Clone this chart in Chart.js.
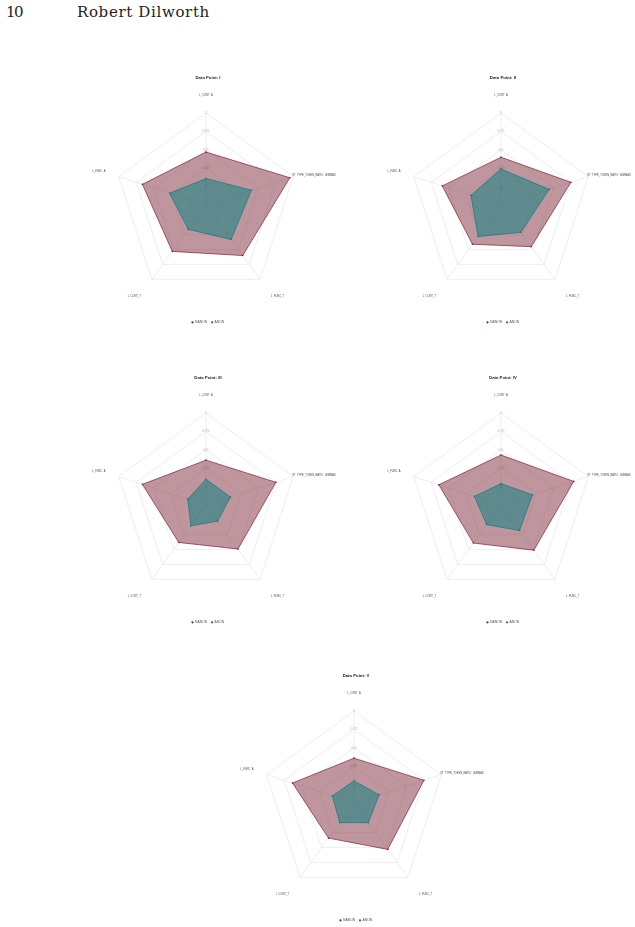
<!DOCTYPE html>
<html>
<head>
<meta charset="utf-8">
<script src="https://cdn.jsdelivr.net/npm/chart.js@4.4.0/dist/chart.umd.min.js"></script>
<style>
  html, body { margin: 0; padding: 0; background: #fff; overflow: hidden; }
  body { width: 635px; height: 927px; position: relative; }
  .head { position: absolute; top: 3px; font-family: 'DejaVu Serif', serif; font-size: 15px; color: #222; white-space: nowrap; }
  canvas { position: absolute; }
</style>
</head>
<body>
<div class="head" style="left:6px;letter-spacing:-1.5px">10</div>
<div class="head" style="left:77px;letter-spacing:0.65px">Robert Dilworth</div>

<canvas id="chart1" width="290" height="264" style="left:63px;top:70px"></canvas>
<canvas id="chart2" width="290" height="264" style="left:358px;top:70px"></canvas>
<canvas id="chart3" width="290" height="264" style="left:63px;top:370px"></canvas>
<canvas id="chart4" width="290" height="264" style="left:358px;top:370px"></canvas>
<canvas id="chart5" width="290" height="264" style="left:211px;top:668px"></canvas>

<script>
// axes, clockwise from the top
const axisLabels = ['L_CONT_A', 'ST_TYPE_TOKEN_RATIO_LEMMAS', 'L_FUNC_T', 'L_CONT_T', 'L_FUNC_A'];
const seriesNames = ['NANON', 'ANON'];
const chartTitles = ['Data Point: I', 'Data Point: II', 'Data Point: III', 'Data Point: IV', 'Data Point: V'];

// scale
const scaleMin = -0.25;
const scaleMax = 1;
const scaleStep = 0.25;

// values
const nanon1 = [0.47, 0.95, 0.60, 0.53, 0.66];
const anon1  = [0.11, 0.40, 0.33, 0.16, 0.27];
const nanon2 = [0.40, 0.75, 0.45, 0.41, 0.59];
const anon2  = [0.24, 0.44, 0.21, 0.28, 0.18];
const nanon3 = [0.36, 0.75, 0.49, 0.38, 0.66];
const anon3  = [0.10, 0.10, 0.02, 0.10, 0.01];
const nanon4 = [0.43, 0.79, 0.51, 0.39, 0.64];
const anon4  = [0.04, 0.20, 0.18, 0.08, 0.13];
const nanon5 = [0.36, 0.75, 0.53, 0.34, 0.63];
const anon5  = [0.05, 0.11, 0.08, 0.08, 0.06];

Chart.defaults.font.family = "'Liberation Sans', Arial, sans-serif";
Chart.defaults.animation = false;

const labelPadding = [15, -3, 17, 17, 12];

function makeRadar(id, title, nanon, anon) {
    const ctx = document.getElementById(id);
    const data = {
        labels: axisLabels,
        datasets: [
            {
                // drawn on top
                label: seriesNames[1],
                data: anon,
                fill: 'start',
                backgroundColor: 'rgba(0, 128, 128, 0.5)',
                borderColor: 'rgb(0, 128, 128)',
                borderWidth: 0.7,
                pointRadius: 0.8,
                pointBorderWidth: 0,
                pointBackgroundColor: 'rgb(0, 128, 128)'
            },
            {
                label: seriesNames[0],
                data: nanon,
                fill: 'start',
                backgroundColor: 'rgba(128, 45, 61, 0.5)',
                borderColor: 'rgb(128, 30, 55)',
                borderWidth: 0.7,
                pointRadius: 0.8,
                pointBorderWidth: 0,
                pointBackgroundColor: 'rgb(128, 30, 55)'
            }
        ]
    };
    const config = {
        type: 'radar',
        data: data,
        options: {
            responsive: false,
            plugins: {
                title: {
                    display: true,
                    text: title,
                    color: '#222',
                    font: { size: 4.3, weight: 'bold' },
                    padding: { top: 5, bottom: 4.09 }
                },
                legend: {
                    position: 'bottom',
                    reverse: true,
                    labels: {
                        usePointStyle: true,
                        pointStyle: 'circle',
                        boxWidth: 1.6,
                        boxHeight: 1.6,
                        padding: 4,
                        color: '#555',
                        font: { size: 3.4 }
                    },
                    title: {
                        display: true,
                        text: '',
                        font: { size: 1, lineHeight: 1 },
                        padding: { top: 0, bottom: 7.85 }
                    }
                },
                tooltip: { enabled: false }
            },
            scales: {
                r: {
                    min: scaleMin,
                    max: scaleMax,
                    ticks: {
                        stepSize: scaleStep,
                        color: '#aaa',
                        font: { size: 3.5 },
                        backdropPadding: 0,
                        showLabelBackdrop: false,
                        callback: v => v < 0 ? '' : String(v)
                    },
                    pointLabels: {
                        color: '#444',
                        font: { size: 2.6 },
                        padding: c => labelPadding[c.index]
                    },
                    grid: { color: '#e2e2e2', lineWidth: 0.6 },
                    angleLines: { color: '#e2e2e2', lineWidth: 0.6 }
                }
            }
        }
    };
    new Chart(ctx, config);
}

makeRadar('chart1', chartTitles[0], nanon1, anon1);
makeRadar('chart2', chartTitles[1], nanon2, anon2);
makeRadar('chart3', chartTitles[2], nanon3, anon3);
makeRadar('chart4', chartTitles[3], nanon4, anon4);
makeRadar('chart5', chartTitles[4], nanon5, anon5);
</script>
</body>
</html>
